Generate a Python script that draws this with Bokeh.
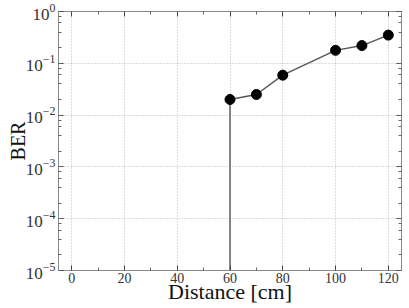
from bokeh.plotting import figure
from bokeh.models import LinearAxis, LogAxis, Range1d, FixedTicker, LogTicker, CustomJSTickFormatter
from bokeh.embed import file_html
from bokeh.resources import INLINE

# Measured bit error rate versus link distance
distance_cm = [60, 60, 70, 80, 100, 110, 120]
ber = [1e-9, 0.020, 0.025, 0.059, 0.178, 0.22, 0.35]
x_ticks = [0, 20, 40, 60, 80, 100, 120]
x_minor = [-10, 10, 30, 50, 70, 90, 110, 130]

FONT = "Liberation Serif"
FRAME = "#8a8a8a"

p = figure(width=409, height=308, y_axis_type="log",
           x_range=Range1d(-5, 125), y_range=Range1d(1e-5, 1),
           output_backend="svg", toolbar_location=None,
           min_border_left=58, min_border_right=8,
           min_border_top=11, min_border_bottom=38)
p.outline_line_color = FRAME
p.background_fill_color = "white"
p.border_fill_color = "white"

# dotted grid at the major ticks
for g in (p.xgrid, p.ygrid):
    g.grid_line_color = "#b8b8b8"
    g.grid_line_dash = "1 2"
    g.grid_line_width = 1
p.xgrid.ticker = FixedTicker(ticks=x_ticks)

def style(ax):
    ax.axis_line_color = FRAME
    ax.major_tick_line_color = "#444444"
    ax.minor_tick_line_color = "#666666"
    ax.major_tick_in = 5
    ax.major_tick_out = 0
    ax.minor_tick_in = 3
    ax.minor_tick_out = 0
    ax.major_label_text_font = FONT
    ax.major_label_text_font_size = "14px"
    ax.major_label_text_color = "#333333"
    ax.axis_label_text_font = FONT
    ax.axis_label_text_font_style = "normal"
    ax.axis_label_text_font_size = "20px"
    ax.axis_label_text_color = "#111111"

xa = p.xaxis[0]
xa.ticker = FixedTicker(ticks=x_ticks, minor_ticks=x_minor)
xa.axis_label = "Distance [cm]"
style(xa)
xa.axis_label_text_font_size = "22px"
xa.major_label_standoff = 2
xa.axis_label_standoff = -7

ya = p.yaxis[0]
ya.ticker = LogTicker(desired_num_ticks=6)
ya.axis_label = "BER"
style(ya)
ya.major_label_text_font_size = "17px"
ya.major_label_standoff = 3
ya.axis_label_standoff = -6

# mirrored ticks on the top and right edges, without labels
blank = CustomJSTickFormatter(code="return ''")

top = LinearAxis(ticker=FixedTicker(ticks=x_ticks, minor_ticks=x_minor), formatter=blank)
style(top)
top.major_label_standoff = 0
p.add_layout(top, "above")

right = LogAxis(ticker=LogTicker(desired_num_ticks=6), formatter=blank)
style(right)
right.major_label_standoff = 0
p.add_layout(right, "right")

p.line(distance_cm, ber, line_color="#555555", line_width=1.4)
p.scatter(distance_cm[1:], ber[1:], size=10, fill_color="black", line_color="black")

open("out.html", "w").write(file_html(p, INLINE))
